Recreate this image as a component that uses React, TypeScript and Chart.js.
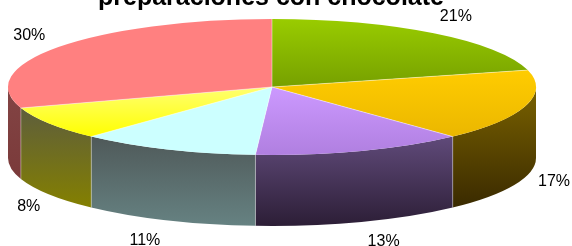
import React, { useEffect, useRef } from 'react';
import { Chart, registerables } from 'chart.js';

Chart.register(...registerables);

const TITLE = 'preparaciones con chocolate';
const categories = ['Categoría 1', 'Categoría 2', 'Categoría 3', 'Categoría 4', 'Categoría 5', 'Categoría 6'];
const values = [21, 17, 13, 11, 8, 30];
const percentLabels = ['21%', '17%', '13%', '11%', '8%', '30%'];

// top face gradient [light, dark]
const topColors: [string, string][] = [
  ['#99CC00', '#76A000'],
  ['#FFCC00', '#EBB700'],
  ['#CC99FF', '#B07FE0'],
  ['#CCFFFF', '#CCFFFF'],
  ['#FFFF70', '#FFFF00'],
  ['#FF8080', '#FF8080'],
];
// side wall gradient [top, bottom]
const sideColors: [string, string][] = [
  ['#4D6600', '#3D5000'],
  ['#7A6200', '#3A2A00'],
  ['#604A7A', '#2C1E36'],
  ['#4F5959', '#668282'],
  ['#5E5E3C', '#848000'],
  ['#834444', '#7A3A3A'],
];

// geometry of the 3D projection (style, not data)
const CX = 272;
const CY = 87;
const RX = 264;
const RY = 68;
const DEPTH = 71;
const LABEL_RX = 300;
const LABEL_RY = 89;
const labelNudge: [number, number][] = [
  [0, 0],
  [-6, -1],
  [10, 0],
  [-8, 1],
  [10, 1],
  [0, 1],
];

function sinRange(s: number, e: number, includeCenter: boolean): [number, number] {
  let lo = Math.min(Math.sin(s), Math.sin(e));
  let hi = Math.max(Math.sin(s), Math.sin(e));
  if (includeCenter) {
    lo = Math.min(lo, 0);
    hi = Math.max(hi, 0);
  }
  for (let k = -2; k <= 2; k++) {
    const up = -Math.PI / 2 + 2 * Math.PI * k;
    const dn = Math.PI / 2 + 2 * Math.PI * k;
    if (up >= s && up <= e) lo = -1;
    if (dn >= s && dn <= e) hi = 1;
  }
  return [lo, hi];
}

const pie3d = {
  id: 'pie3d',
  beforeDatasetsDraw(chart: any) {
    const meta = chart.getDatasetMeta(0);
    const arcs = meta.data as any[];
    if (!arcs.length) return;
    const ctx: CanvasRenderingContext2D = chart.ctx;
    // side walls
    arcs.forEach((arc, i) => {
      const s = Math.max(arc.startAngle, 0);
      const e = Math.min(arc.endAngle, Math.PI);
      if (e <= s) return;
      const [lo, hi] = sinRange(s, e, false);
      const g = ctx.createLinearGradient(0, CY + RY * lo, 0, CY + RY * hi + DEPTH);
      g.addColorStop(0, sideColors[i][0]);
      g.addColorStop(1, sideColors[i][1]);
      ctx.beginPath();
      ctx.ellipse(CX, CY, RX, RY, 0, s, e, false);
      ctx.lineTo(CX + RX * Math.cos(e), CY + RY * Math.sin(e) + DEPTH);
      ctx.ellipse(CX, CY + DEPTH, RX, RY, 0, e, s, true);
      ctx.closePath();
      ctx.fillStyle = g;
      ctx.fill();
    });
    // vertical edges between walls
    ctx.save();
    ctx.strokeStyle = 'rgba(255,255,255,0.35)';
    ctx.lineWidth = 1;
    arcs.forEach((arc) => {
      const a = arc.startAngle;
      if (a > 0 && a < Math.PI) {
        const x = CX + RX * Math.cos(a);
        const y = CY + RY * Math.sin(a);
        ctx.beginPath();
        ctx.moveTo(x, y);
        ctx.lineTo(x, y + DEPTH);
        ctx.stroke();
      }
    });
    ctx.restore();
    // project the library's circular arcs onto the ellipse
    const a0 = arcs[0];
    const R = a0.outerRadius;
    ctx.save();
    ctx.translate(CX, CY);
    ctx.scale(RX / R, RY / R);
    ctx.translate(-a0.x, -a0.y);
  },
  afterDatasetsDraw(chart: any) {
    const meta = chart.getDatasetMeta(0);
    const arcs = meta.data as any[];
    if (!arcs.length) return;
    const ctx: CanvasRenderingContext2D = chart.ctx;
    ctx.restore();
    // separators on top face
    ctx.save();
    ctx.strokeStyle = 'rgba(255,255,255,0.45)';
    ctx.lineWidth = 1;
    arcs.forEach((arc) => {
      const a = arc.startAngle;
      ctx.beginPath();
      ctx.moveTo(CX, CY);
      ctx.lineTo(CX + RX * Math.cos(a), CY + RY * Math.sin(a));
      ctx.stroke();
    });
    ctx.restore();
    // labels
    ctx.save();
    ctx.fillStyle = '#000';
    ctx.font = '16px "Liberation Sans", Arial, sans-serif';
    ctx.textAlign = 'center';
    ctx.textBaseline = 'middle';
    arcs.forEach((arc, i) => {
      const m = (arc.startAngle + arc.endAngle) / 2;
      const sm = Math.sin(m);
      const x = CX + LABEL_RX * Math.cos(m) + labelNudge[i][0];
      const y = CY + LABEL_RY * sm + (sm > 0 ? DEPTH : 0) + labelNudge[i][1];
      ctx.fillText(percentLabels[i], x, y);
    });
    // title (partly cut off at the top, as in the reference)
    ctx.font = 'bold 25px "Liberation Sans", Arial, sans-serif';
    ctx.textBaseline = 'alphabetic';
    ctx.fillText(TITLE, 271, 5);
    ctx.restore();
  },
};

export default function App() {
  const ref = useRef<HTMLCanvasElement | null>(null);
  useEffect(() => {
    if (!ref.current) return;
    const total = values.reduce((a, b) => a + b, 0);
    const chart = new Chart(ref.current, {
      type: 'pie',
      data: {
        labels: categories,
        datasets: [
          {
            data: values,
            borderWidth: 0,
            clip: false,
            backgroundColor: (c: any) => {
              const i = c.dataIndex;
              const chartObj = c.chart;
              const area = chartObj.chartArea;
              if (!area || i === undefined) return topColors[i ?? 0][0];
              let cum = 0;
              for (let k = 0; k < i; k++) cum += values[k];
              const s = -Math.PI / 2 + (2 * Math.PI * cum) / total;
              const e = s + (2 * Math.PI * values[i]) / total;
              const [lo, hi] = sinRange(s, e, true);
              const yc = (area.top + area.bottom) / 2;
              const R = Math.min(area.width, area.height) / 2;
              const g = chartObj.ctx.createLinearGradient(0, yc + R * lo, 0, yc + R * hi);
              g.addColorStop(0, topColors[i][0]);
              g.addColorStop(1, topColors[i][1]);
              return g;
            },
          } as any,
        ],
      },
      options: {
        animation: false,
        responsive: false,
        maintainAspectRatio: false,
        events: [],
        layout: { padding: 0 },
        plugins: {
          legend: { display: false },
          tooltip: { enabled: false },
          title: { display: false },
        },
      },
      plugins: [pie3d],
    });
    return () => chart.destroy();
  }, []);
  return (
    <div style={{ position: 'fixed', left: 0, top: 0, width: 572, height: 246, background: '#fff' }}>
      <canvas ref={ref} width={572} height={246} style={{ display: 'block', width: 572, height: 246 }} />
    </div>
  );
}
